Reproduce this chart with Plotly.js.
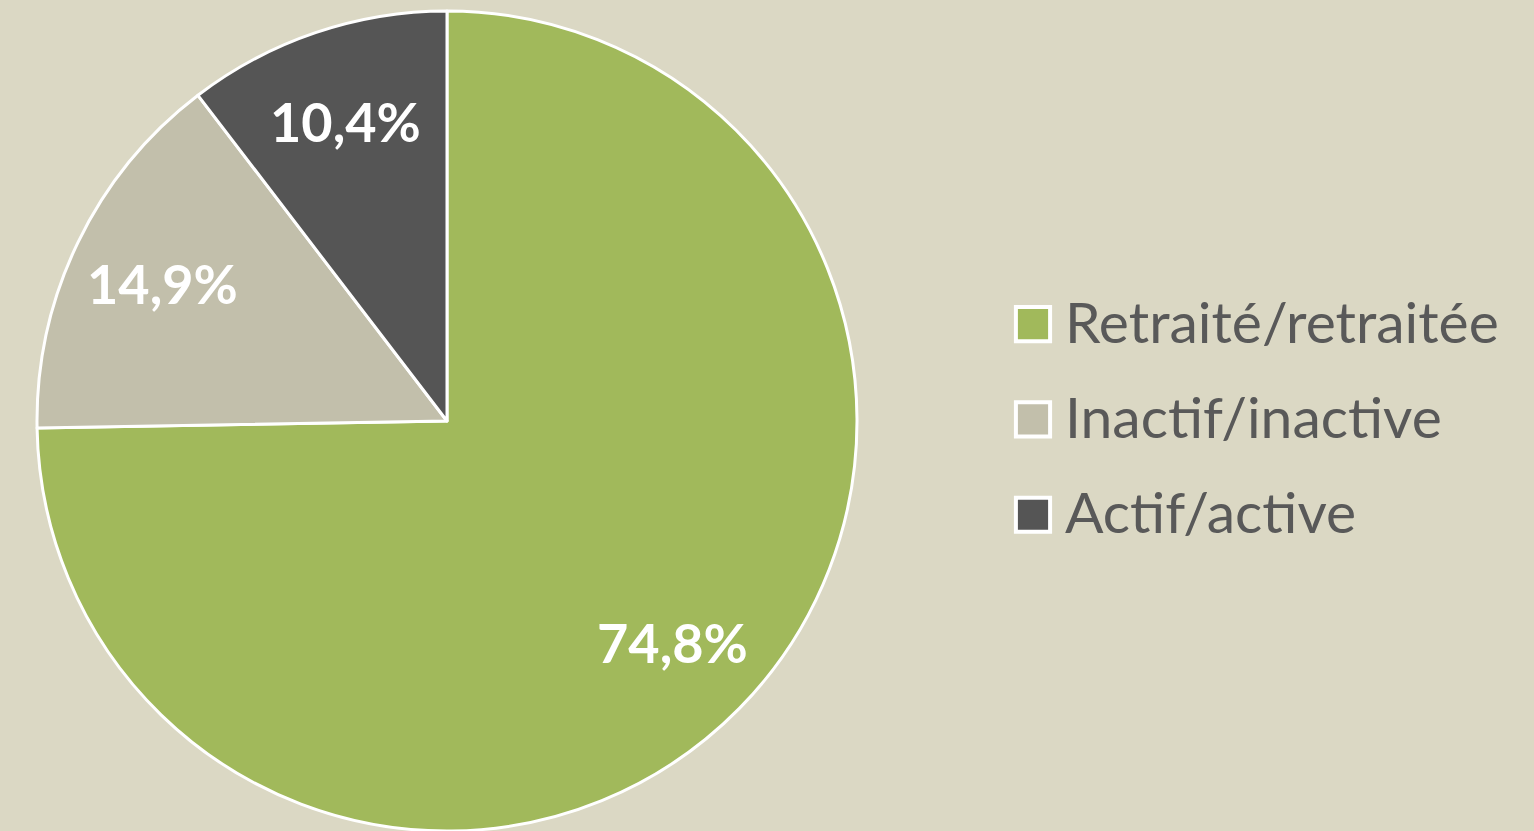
<!DOCTYPE html>
<html><head><meta charset="utf-8">
<script src="https://cdn.plot.ly/plotly-3.0.1.min.js"></script>
<style>
html,body{margin:0;padding:0;background:#dbd8c4;overflow:hidden;}
#chart{width:1534px;height:831px;}
.legend .scrollbox{clip-path:none !important;}
.legend .legendpoints path{transform-box:fill-box;transform-origin:center;transform:translate(8px,9px) scale(2.85);stroke-width:1.4px !important;}
</style>
</head><body><div id="chart"></div>
<script>
const categories = ["Retraité/retraitée", "Inactif/inactive", "Actif/active"];
const shares = [74.8, 14.9, 10.4];
const shareLabels = ["74,8%", "14,9%", "10,4%"];
const sliceColors = ["#a1b95b", "#c2bfab", "#555555"];

const W = 1534, H = 831;
const dom = {x: [37/W, 857/W], y: [0, 820/H]};
const cx = (dom.x[0] + dom.x[1]) / 2;
const cy = (dom.y[0] + dom.y[1]) / 2;
const rPx = (dom.x[1] - dom.x[0]) * W / 2;
const labelFrac = 0.77;

const total = shares.reduce((a, b) => a + b, 0);
let acc = 0;
const annotations = shares.map((v, i) => {
  const mid = (acc + v / 2) / total * 2 * Math.PI;
  acc += v;
  return {
    xref: "paper", yref: "paper",
    x: cx + labelFrac * rPx * Math.sin(mid) / W,
    y: cy + labelFrac * rPx * Math.cos(mid) / H,
    xanchor: "center", yanchor: "middle",
    text: shareLabels[i], showarrow: false,
    font: {family: "Lato", size: 54, color: "#ffffff", weight: "bold"}
  };
});

const trace = {
  type: "pie",
  labels: categories.map(c => '<span style="font-size:57px">' + c + '</span>'),
  values: shares,
  textinfo: "none",
  sort: false,
  direction: "clockwise",
  rotation: 0,
  hoverinfo: "none",
  marker: {colors: sliceColors, line: {color: "#ffffff", width: 3}},
  domain: dom
};

const layout = {
  width: W, height: H,
  margin: {l: 0, r: 0, t: 0, b: 0},
  paper_bgcolor: "#dbd8c4",
  plot_bgcolor: "#dbd8c4",
  showlegend: true,
  annotations: annotations,
  legend: {
    x: 1025/W, xanchor: "left",
    y: 0.506, yanchor: "middle",
    bgcolor: "rgba(0,0,0,0)",
    font: {family: "Lato", size: 71, color: "#595959"}
  }
};

Plotly.newPlot("chart", [trace], layout, {displayModeBar: false, staticPlot: true});
</script>
</body></html>
